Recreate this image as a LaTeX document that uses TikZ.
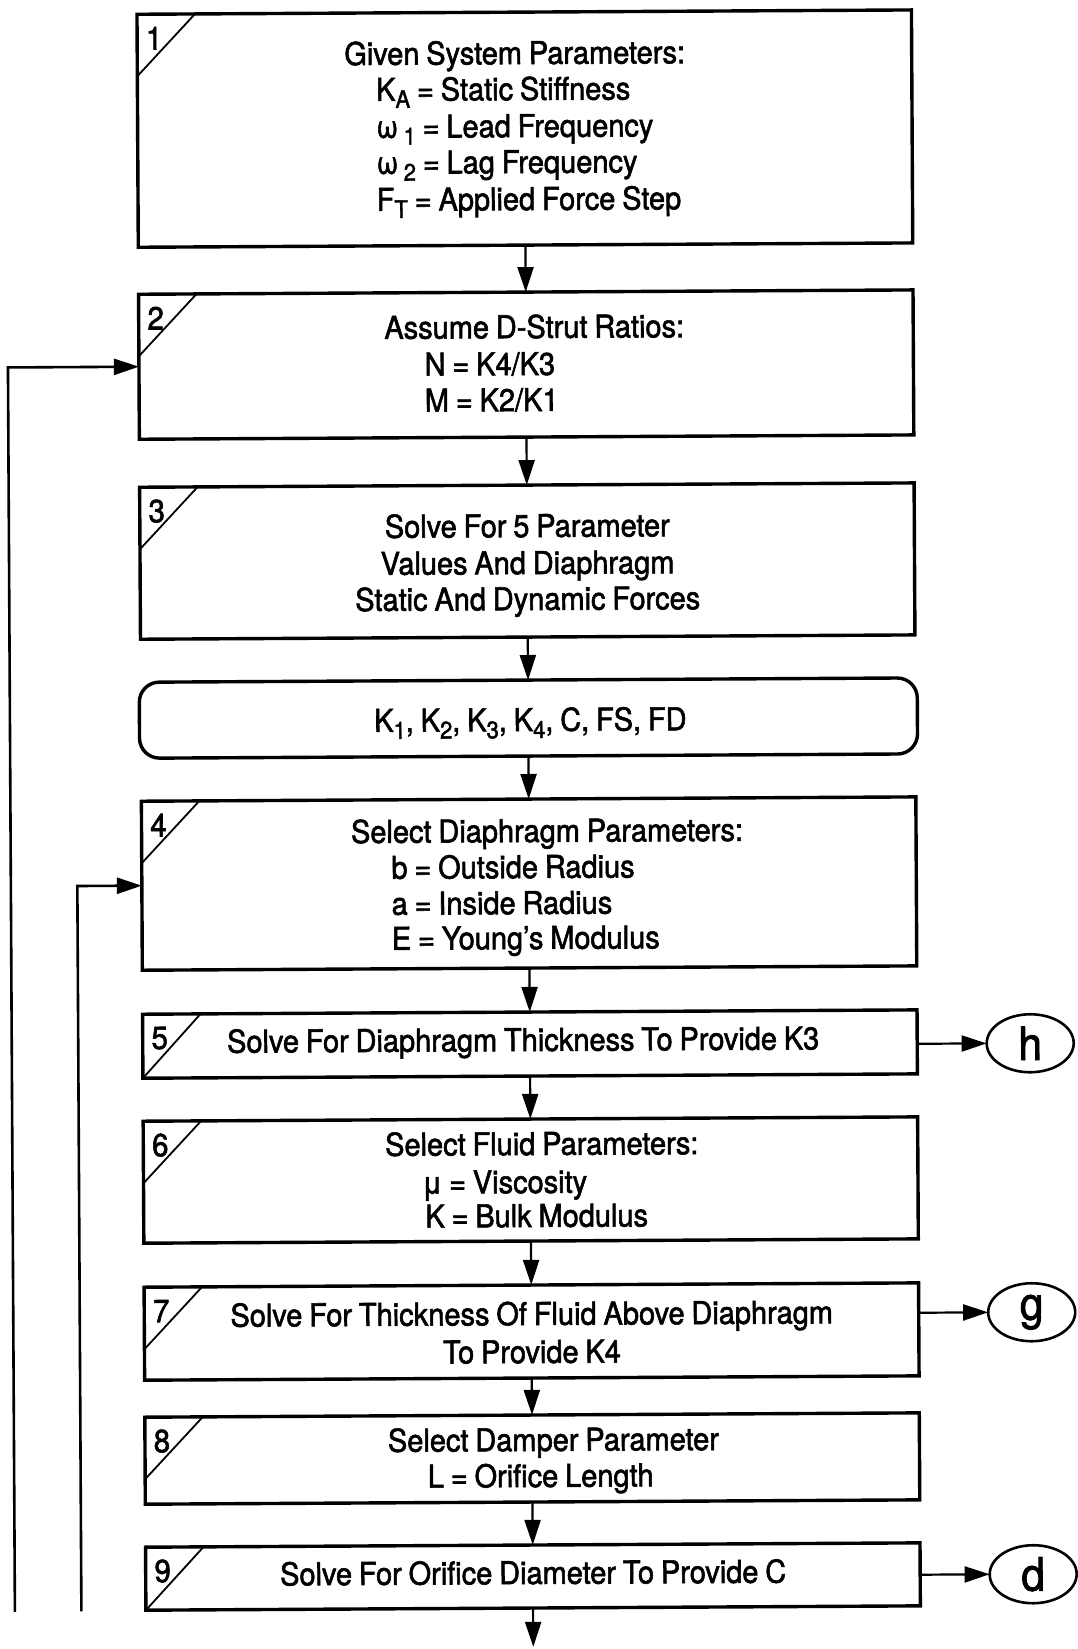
\documentclass[tikz,border=0pt]{standalone}
\usepackage{fontspec}
\setmainfont[FakeStretch=0.92,FakeBold=1.8,WordSpace=0.85]{TeX Gyre Heros}
\usetikzlibrary{arrows.meta,shapes.geometric}
\newcommand\lowsub[1]{\raisebox{-7pt}{\fontsize{24}{24}\selectfont #1}}
% name, top, bottom, number, diagonal drop
\newcommand\flowbox[5]{%
  \node[stepbox,minimum height={(#3-#2)*1pt}] (#1) at (528.75,{(#2+#3)/2}) {};
  \draw[diag] (199.5,#2) -- (141.5,{#2+#5});
  \node[tag] (#1n) at (158.5,{#2+24}) {#4};
}
\begin{document}
\begin{tikzpicture}[x=1pt,y=-1pt,
  stepbox/.style={draw,line width=3.4pt,rectangle,minimum width=774.5pt,inner sep=0pt,outer sep=0pt,transform shape},
  roundbox/.style={draw,line width=3.4pt,rectangle,rounded corners=20pt,minimum width=778pt,inner sep=0pt,outer sep=0pt,transform shape},
  conn/.style={draw,ellipse,line width=2.6pt,minimum width=87pt,minimum height=58pt,inner sep=0pt,outer sep=0pt,font=\fontsize{46}{46}\selectfont,transform shape},
  txt/.style={inner sep=0pt,anchor=base,font=\fontsize{31.5}{32}\selectfont,transform shape},
  txtl/.style={txt,anchor=base west},
  tag/.style={inner sep=0pt,font=\fontsize{32}{32}\selectfont,transform shape},
  diag/.style={line width=1.8pt},
  arr/.style={line width=2.2pt,-{Triangle[length=25pt,width=16pt]}},
  fb/.style={line width=2.6pt,-{Triangle[length=25pt,width=16pt]}},
]
\useasboundingbox[fill=white] (0,0) rectangle (1078,1649);
\begin{scope}[rotate around={0.32:(539,825)}]
% boxes
\flowbox{b1}{12}{245}{1}{62}
\flowbox{b2}{292}{437}{2}{62}
\flowbox{b3}{485}{637}{3}{62}
\node[roundbox,minimum height=76pt] (r) at (529,718) {};
\flowbox{b4}{799}{968}{4}{62}
\flowbox{b5}{1012}{1076}{5}{64}
\flowbox{b6}{1119}{1241}{6}{62}
\flowbox{b7}{1285}{1378}{7}{62}
\flowbox{b8}{1415}{1502}{8}{62}
\flowbox{b9}{1545}{1608}{9}{63}
% off-page connectors
\node[conn] (h) at (1029,1046) {h};
\node[conn] (g) at (1029,1315) {g};
\node[conn] (d) at (1029,1577) {d};
% texts
\node[txt] (t1a) at (519,64) {Given System Parameters:};
\node[txtl] (t1b) at (380,100) {K\lowsub{A} = Static Stiffness};
\node[txtl] (t1c) at (380,137) {ω\,\lowsub{1} = Lead Frequency};
\node[txtl] (t1d) at (380,173) {ω\,\lowsub{2} = Lag Frequency};
\node[txtl] (t1e) at (380,210) {F\lowsub{T} = Applied Force Step};
\node[txt] (t2a) at (537,338) {Assume D-Strut Ratios:};
\node[txtl] (t2b) at (427,375) {N = K4/K3};
\node[txtl] (t2c) at (427,411) {M = K2/K1};
\node[txt] (t3a) at (529,537) {Solve For 5 Parameter};
\node[txt] (t3b) at (529,574) {Values And Diaphragm};
\node[txt] (t3c) at (529,610) {Static And Dynamic Forces};
\node[txt] (tr) at (531,731) {K\lowsub{1}, K\lowsub{2}, K\lowsub{3}, K\lowsub{4}, C, FS, FD};
\node[txt] (t4a) at (547,842) {Select Diaphragm Parameters:};
\node[txtl] (t4b) at (391,878) {b = Outside Radius};
\node[txtl] (t4c) at (391,914) {a = Inside Radius};
\node[txtl] (t4d) at (391,949) {E = Young's Modulus};
\node[txt] (t5) at (522,1051) {Solve For Diaphragm Thickness To Provide K3};
\node[txt] (t6a) at (540,1155) {Select Fluid Parameters:};
\node[txtl] (t6b) at (420,1193) {μ = Viscosity};
\node[txtl] (t6c) at (423,1227) {K = Bulk Modulus};
\node[txt] (t7a) at (529,1325) {Solve For Thickness Of Fluid Above Diaphragm};
\node[txt] (t7b) at (529,1363) {To Provide K4};
\node[txt] (t8a) at (550,1451) {Select Damper Parameter};
\node[txtl] (t8b) at (424,1487) {L = Orifice Length};
\node[txt] (t9) at (529,1584) {Solve For Orifice Diameter To Provide C};
% main flow
\draw[arr] (b1) -- (b2);
\draw[arr] (b2) -- (b3);
\draw[arr] (b3) -- (r);
\draw[arr] (r) -- (b4);
\draw[arr] (b4) -- (b5);
\draw[arr] (b5) -- (b6);
\draw[arr] (b6) -- (b7);
\draw[arr] (b7) -- (b8);
\draw[arr] (b8) -- (b9);
\coordinate (bend) at (528.75,1647);
\draw[arr] (b9) -- (bend);
% side connectors
\coordinate (b5r) at (916,1046);
\coordinate (b7r) at (916,1315);
\coordinate (b9r) at (916,1577);
\draw[arr] (b5r) -- (h);
\draw[arr] (b7r) -- (g);
\draw[arr] (b9r) -- (d);
% feedback loops
\coordinate (o1) at (10.5,1609);
\coordinate (o1t) at (10.5,364.5);
\draw[fb] (o1) -- (o1t) -- (b2.west);
\coordinate (o2) at (77,1609);
\coordinate (o2t) at (77,883.5);
\draw[fb] (o2) -- (o2t) -- (b4.west);
\end{scope}
\end{tikzpicture}
\end{document}
